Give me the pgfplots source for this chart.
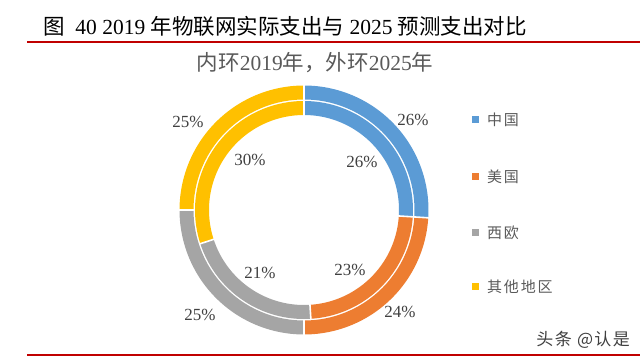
\documentclass[border=0pt]{standalone}
\usepackage{pgfplots}
\pgfplotsset{compat=1.18}
\usepackage{fontspec}
\setmainfont{Liberation Serif}
\newfontfamily\cjk{Noto Sans CJK SC}
\newfontfamily\cjkl[LetterSpace=12]{Noto Sans CJK SC}
\newfontfamily\cjkw[LetterSpace=8]{Noto Sans CJK SC}
\definecolor{cn}{HTML}{5B9BD5}
\definecolor{us}{HTML}{ED7D31}
\definecolor{eu}{HTML}{A5A5A5}
\definecolor{ot}{HTML}{FFC000}
\definecolor{redline}{HTML}{C00000}
\definecolor{txt}{HTML}{404040}
\definecolor{legtxt}{HTML}{595959}
% centre and radii (in bp) of the doughnut
\def\cx{304}\def\cy{147}
\def\Ro{117.5}\def\Ri{102}
\begin{document}
\begin{tikzpicture}
\path[use as bounding box] (0,0) rectangle (640bp,357bp);
\begin{axis}[
  at={(0,0)}, anchor=south west,
  x=1bp, y=1bp, xmin=0, xmax=640, ymin=0, ymax=357,
  hide axis, clip=false, scale only axis,
]
% ---- outer ring: 2025 (China 26, US 24, W. Europe 25, Other 25), clockwise from top
\addplot[draw=cn, line width=14bp, domain={90-3.6*26}:{90}, samples=60, variable=\t] ({\cx+\Ro*cos(\t)},{\cy+\Ro*sin(\t)});
\addplot[draw=us, line width=14bp, domain={90-3.6*(26+24)}:{90-3.6*26}, samples=60, variable=\t] ({\cx+\Ro*cos(\t)},{\cy+\Ro*sin(\t)});
\addplot[draw=eu, line width=14bp, domain={90-3.6*(26+24+25)}:{90-3.6*(26+24)}, samples=60, variable=\t] ({\cx+\Ro*cos(\t)},{\cy+\Ro*sin(\t)});
\addplot[draw=ot, line width=14bp, domain={90-3.6*(26+24+25+25)}:{90-3.6*(26+24+25)}, samples=60, variable=\t] ({\cx+\Ro*cos(\t)},{\cy+\Ro*sin(\t)});
% ---- inner ring: 2019 (China 26, US 23, W. Europe 21, Other 30)
\addplot[draw=cn, line width=14bp, domain={90-3.6*26}:{90}, samples=60, variable=\t] ({\cx+\Ri*cos(\t)},{\cy+\Ri*sin(\t)});
\addplot[draw=us, line width=14bp, domain={90-3.6*(26+23)}:{90-3.6*26}, samples=60, variable=\t] ({\cx+\Ri*cos(\t)},{\cy+\Ri*sin(\t)});
\addplot[draw=eu, line width=14bp, domain={90-3.6*(26+23+21)}:{90-3.6*(26+23)}, samples=60, variable=\t] ({\cx+\Ri*cos(\t)},{\cy+\Ri*sin(\t)});
\addplot[draw=ot, line width=14bp, domain={90-3.6*(26+23+21+30)}:{90-3.6*(26+23+21)}, samples=60, variable=\t] ({\cx+\Ri*cos(\t)},{\cy+\Ri*sin(\t)});
% ---- white separators
\foreach \c in {0,26,50,75}{
  \edef\tmp{\noexpand\addplot[white, line width=1.6bp, domain=109.8:125.5, samples=2, variable=\noexpand\r] ({\noexpand\cx+\noexpand\r*cos(90-3.6*\c)},{\noexpand\cy+\noexpand\r*sin(90-3.6*\c)});}\tmp
}
\foreach \c in {0,26,49,70}{
  \edef\tmp{\noexpand\addplot[white, line width=1.6bp, domain=94:110, samples=2, variable=\noexpand\r] ({\noexpand\cx+\noexpand\r*cos(90-3.6*\c)},{\noexpand\cy+\noexpand\r*sin(90-3.6*\c)});}\tmp
}
% ---- labels
\begin{scope}[every node/.style={text=txt, font=\fontsize{17bp}{20bp}\selectfont, inner sep=0pt}]
\node at (axis cs:413,237) {26\%};
\node at (axis cs:400,45) {24\%};
\node at (axis cs:200,42) {25\%};
\node at (axis cs:188,235) {25\%};
\node at (axis cs:362,195) {26\%};
\node at (axis cs:350,87) {23\%};
\node at (axis cs:260,84) {21\%};
\node at (axis cs:250,197) {30\%};
\end{scope}
\end{axis}
% title
\node[anchor=base west, inner sep=0pt, font=\fontsize{21.5bp}{24bp}\selectfont] at (43bp,322bp)
  {{\cjk 图}\ \ 40 2019 {\cjk 年物联网实际支出与} 2025 {\cjk 预测支出对比}};
\draw[redline, line width=1.5bp] (27bp,315bp) -- (640bp,315bp);
\draw[redline, line width=1.5bp] (27bp,2bp) -- (640bp,2bp);
% subtitle
\node[inner sep=0pt, text=legtxt, font=\fontsize{21.5bp}{24bp}\selectfont] at (315bp,294bp)
  {{\cjk 内环}2019{\cjk 年，外环}2025{\cjk 年}};
% legend
\foreach \y/\col/\lab in {237/cn/中国,180/us/美国,124/eu/西欧,70/ot/其他地区}{
  \fill[\col] (472bp,\y bp-3.5bp) rectangle (479bp,\y bp+3.5bp);
  \node[anchor=west, inner sep=0pt, text=legtxt, font=\cjkl\fontsize{15bp}{18bp}\selectfont] at (487bp,\y bp) {\lab};
}
% watermark
\node[anchor=east, inner sep=0pt, text=txt, font=\cjkw\fontsize{17bp}{19bp}\selectfont] at (630bp,17bp) {头条 @认是};
\end{tikzpicture}
\end{document}
